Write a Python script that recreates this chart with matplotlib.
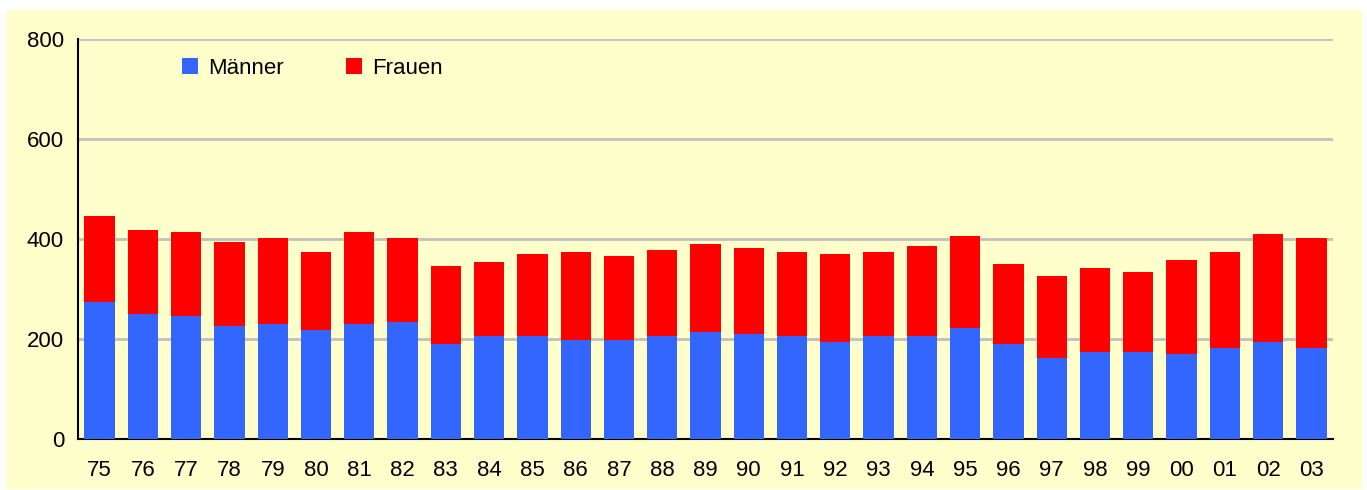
import matplotlib
matplotlib.use("Agg")
import matplotlib.pyplot as plt
from matplotlib.patches import Rectangle
import numpy as np

plt.rcParams['font.family'] = ['Liberation Sans', 'DejaVu Sans']

years = ["75", "76", "77", "78", "79", "80", "81", "82", "83", "84", "85", "86", "87", "88", "89",
         "90", "91", "92", "93", "94", "95", "96", "97", "98", "99", "00", "01", "02", "03"]
totals = [446, 418, 414, 394, 402, 374, 414, 402, 346, 354, 370, 374, 366, 378, 390,
          382, 374, 370, 374, 386, 406, 350, 326, 342, 334, 358, 374, 410, 402]
maenner = [275, 250, 246, 226, 230, 218, 230, 234, 190, 206, 206, 198, 198, 206, 214,
           210, 206, 194, 206, 206, 222, 190, 162, 174, 174, 170, 182, 194, 182]
frauen = [t - m for t, m in zip(totals, maenner)]

bg = '#FFFFCC'
fig = plt.figure(figsize=(13.67, 4.90), dpi=100)
fig.patch.set_facecolor('white')
fig.patches.append(Rectangle((6/1367, 1/490), (1362-6)/1367, (480-1)/490,
                             transform=fig.transFigure, facecolor=bg, edgecolor='none', zorder=-10))

ax = fig.add_axes([78/1367, (490-439)/490, (1333-78)/1367, 400/490])
ax.set_facecolor(bg)
x = np.arange(len(years))
ax.bar(x, maenner, width=0.7, color='#3366FF', label='Männer', zorder=3)
ax.bar(x, frauen, bottom=maenner, width=0.7, color='#FF0000', label='Frauen', zorder=3)

ax.set_xlim(-0.5, len(years) - 0.5)
ax.set_ylim(0, 800)
ax.set_yticks([0, 200, 400, 600, 800])
ax.set_xticks(x)
ax.set_xticklabels(years)
ax.tick_params(axis='both', length=0, labelsize=16, colors='black')
ax.tick_params(axis='y', pad=10)
ax.tick_params(axis='x', pad=15)
ax.yaxis.grid(True, color='#C0C0C0', linewidth=2, zorder=0)
ax.set_axisbelow(True)
for s in ['top', 'right']:
    ax.spines[s].set_visible(False)
ax.spines['left'].set_color('black')
ax.spines['left'].set_linewidth(1.5)
ax.spines['bottom'].set_color('black')
ax.spines['bottom'].set_linewidth(1.5)

leg = ax.legend(loc='upper left', bbox_to_anchor=(0.083, 0.953), ncol=2, frameon=False,
                fontsize=16, handlelength=0.73, handleheight=0.73, handletextpad=0.45,
                columnspacing=2.8, borderaxespad=0, borderpad=0)

fig.savefig('out.png', dpi=100, facecolor='white')
